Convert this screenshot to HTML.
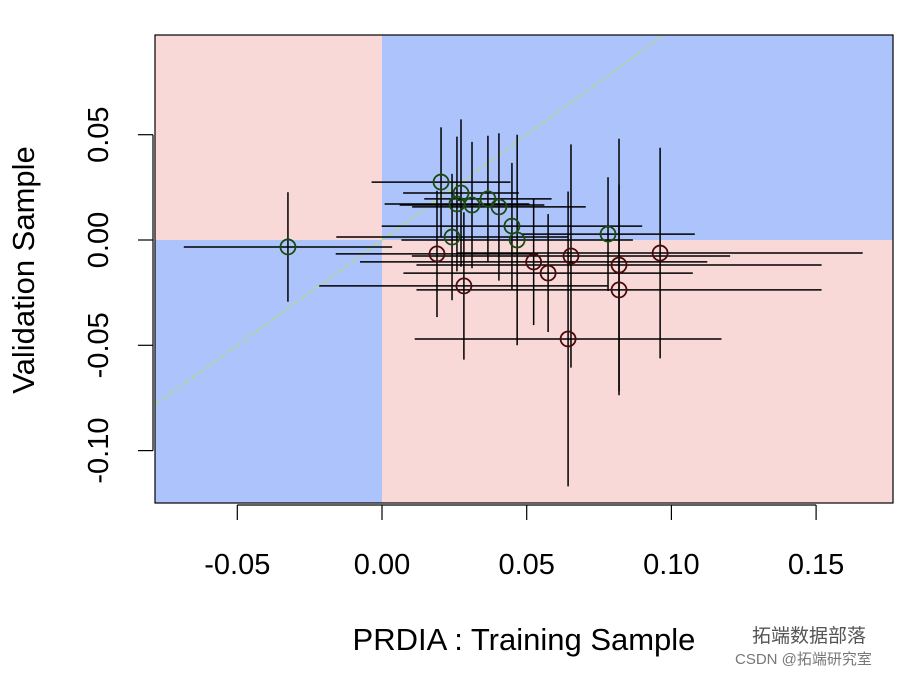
<!DOCTYPE html>
<html><head><meta charset="utf-8"><style>
body{margin:0;background:#fff;width:920px;height:676px;overflow:hidden}
text{font-family:"Liberation Sans",sans-serif}
</style></head><body>
<svg id="chart" width="920" height="676" xmlns="http://www.w3.org/2000/svg"></svg>
<script>
const xs=[-0.0325,0.0204,0.0273,0.0259,0.0311,0.0366,0.0404,0.0449,0.0242,0.0781,0.0467,0.0190,0.0524,0.0653,0.0574,0.0819,0.0961,0.0283,0.0819,0.0643];
const ys=[-0.0033,0.0275,0.0223,0.0171,0.0166,0.0195,0.0157,0.0066,0.0014,0.0028,0.0000,-0.0066,-0.0104,-0.0076,-0.0157,-0.0119,-0.0062,-0.0218,-0.0237,-0.0470];
const exs=[0.036,0.024,0.02,0.025,0.025,0.022,0.03,0.045,0.04,0.03,0.04,0.035,0.06,0.055,0.05,0.07,0.07,0.05,0.07,0.053];
const eys=[0.026,0.026,0.035,0.032,0.03,0.03,0.035,0.03,0.03,0.027,0.05,0.03,0.03,0.053,0.028,0.06,0.05,0.035,0.05,0.07];
const xTicks=[-0.05,0,0.05,0.10,0.15];
const xTickLabels=["-0.05","0.00","0.05","0.10","0.15"];
const yTicks=[0.05,0,-0.05,-0.10];
const yTickLabels=["0.05","0.00","-0.05","-0.10"];
const L=155,R=893,T=35,B=503;
const X=v=>382+v*2894, Y=v=>240-v*2106;
const svg=document.getElementById('chart');const NS='http://www.w3.org/2000/svg';
function el(t,a,p){const e=document.createElementNS(NS,t);for(const k in a)e.setAttribute(k,a[k]);(p||svg).appendChild(e);return e;}
const x0=X(0),y0=Y(0);
let r;
r=el('rect',{x:L,y:T,width:x0-L,height:y0-T,fill:'#f9d8d8'});
r=el('rect',{x:x0,y:T,width:R-x0,height:y0-T,fill:'#adc3fb'});
r=el('rect',{x:L,y:y0,width:x0-L,height:B-y0,fill:'#adc3fb'});
r=el('rect',{x:x0,y:y0,width:R-x0,height:B-y0,fill:'#f9d8d8'});
const d0=-0.0784,d1=0.0973;
let dl=el('line',{x1:X(d0),y1:Y(d0),x2:X(d1),y2:Y(d1),stroke:'#b5d98a','stroke-width':1.5,'stroke-dasharray':'6,3'});

for(let i=0;i<xs.length;i++){
 const cx=X(xs[i]),cy=Y(ys[i]);
 let h=el('line',{x1:X(xs[i]-exs[i]),x2:X(xs[i]+exs[i]),y1:cy,y2:cy,stroke:'#000','stroke-width':1.5});
 
 let v=el('line',{x1:cx,x2:cx,y1:Y(ys[i]-eys[i]),y2:Y(ys[i]+eys[i]),stroke:'#000','stroke-width':1.5});
 
}
for(let i=0;i<xs.length;i++){
 const same=(xs[i]>=0)===(ys[i]>=0);
 let c=el('circle',{cx:X(xs[i]),cy:Y(ys[i]),r:7.5,fill:'none',stroke:same?'#1a4a10':'#4a0a0a','stroke-width':1.8});
 
}
let fr=el('rect',{x:L,y:T,width:R-L,height:B-T,fill:'none',stroke:'#000','stroke-width':1.2});

el('line',{x1:X(-0.05),x2:X(0.15),y1:505,y2:505,stroke:'#000','stroke-width':1.2});
xTicks.forEach((t,i)=>{el('line',{x1:X(t),x2:X(t),y1:505,y2:520,stroke:'#000','stroke-width':1.2});
 let tx=el('text',{x:X(t),y:574,'text-anchor':'middle','font-size':29});tx.textContent=xTickLabels[i];
 });
el('line',{x1:153,x2:153,y1:Y(0.05),y2:Y(-0.10),stroke:'#000','stroke-width':1.2});
yTicks.forEach((t,i)=>{el('line',{x1:138,x2:153,y1:Y(t),y2:Y(t),stroke:'#000','stroke-width':1.2});
 let tx=el('text',{x:0,y:0,'text-anchor':'middle','font-size':29,transform:`translate(108,${Y(t)}) rotate(-90)`});tx.textContent=yTickLabels[i];
 });
let xt=el('text',{x:524,y:650,'text-anchor':'middle','font-size':31});xt.textContent='PRDIA : Training Sample';

let yt=el('text',{x:0,y:0,'text-anchor':'middle','font-size':31,transform:'translate(34,270) rotate(-90)'});yt.textContent='Validation Sample';

let w1=el('text',{x:752,y:642,'font-size':19,fill:'#555'});w1.textContent='拓端数据部落';w1.setAttribute('font-family','"Liberation Sans","Noto Sans CJK SC",sans-serif');

let w2=el('text',{x:735,y:664,'font-size':15,fill:'#777'});w2.textContent='CSDN @拓端研究室';w2.setAttribute('font-family','"Liberation Sans","Noto Sans CJK SC",sans-serif');

</script>
</body></html>
